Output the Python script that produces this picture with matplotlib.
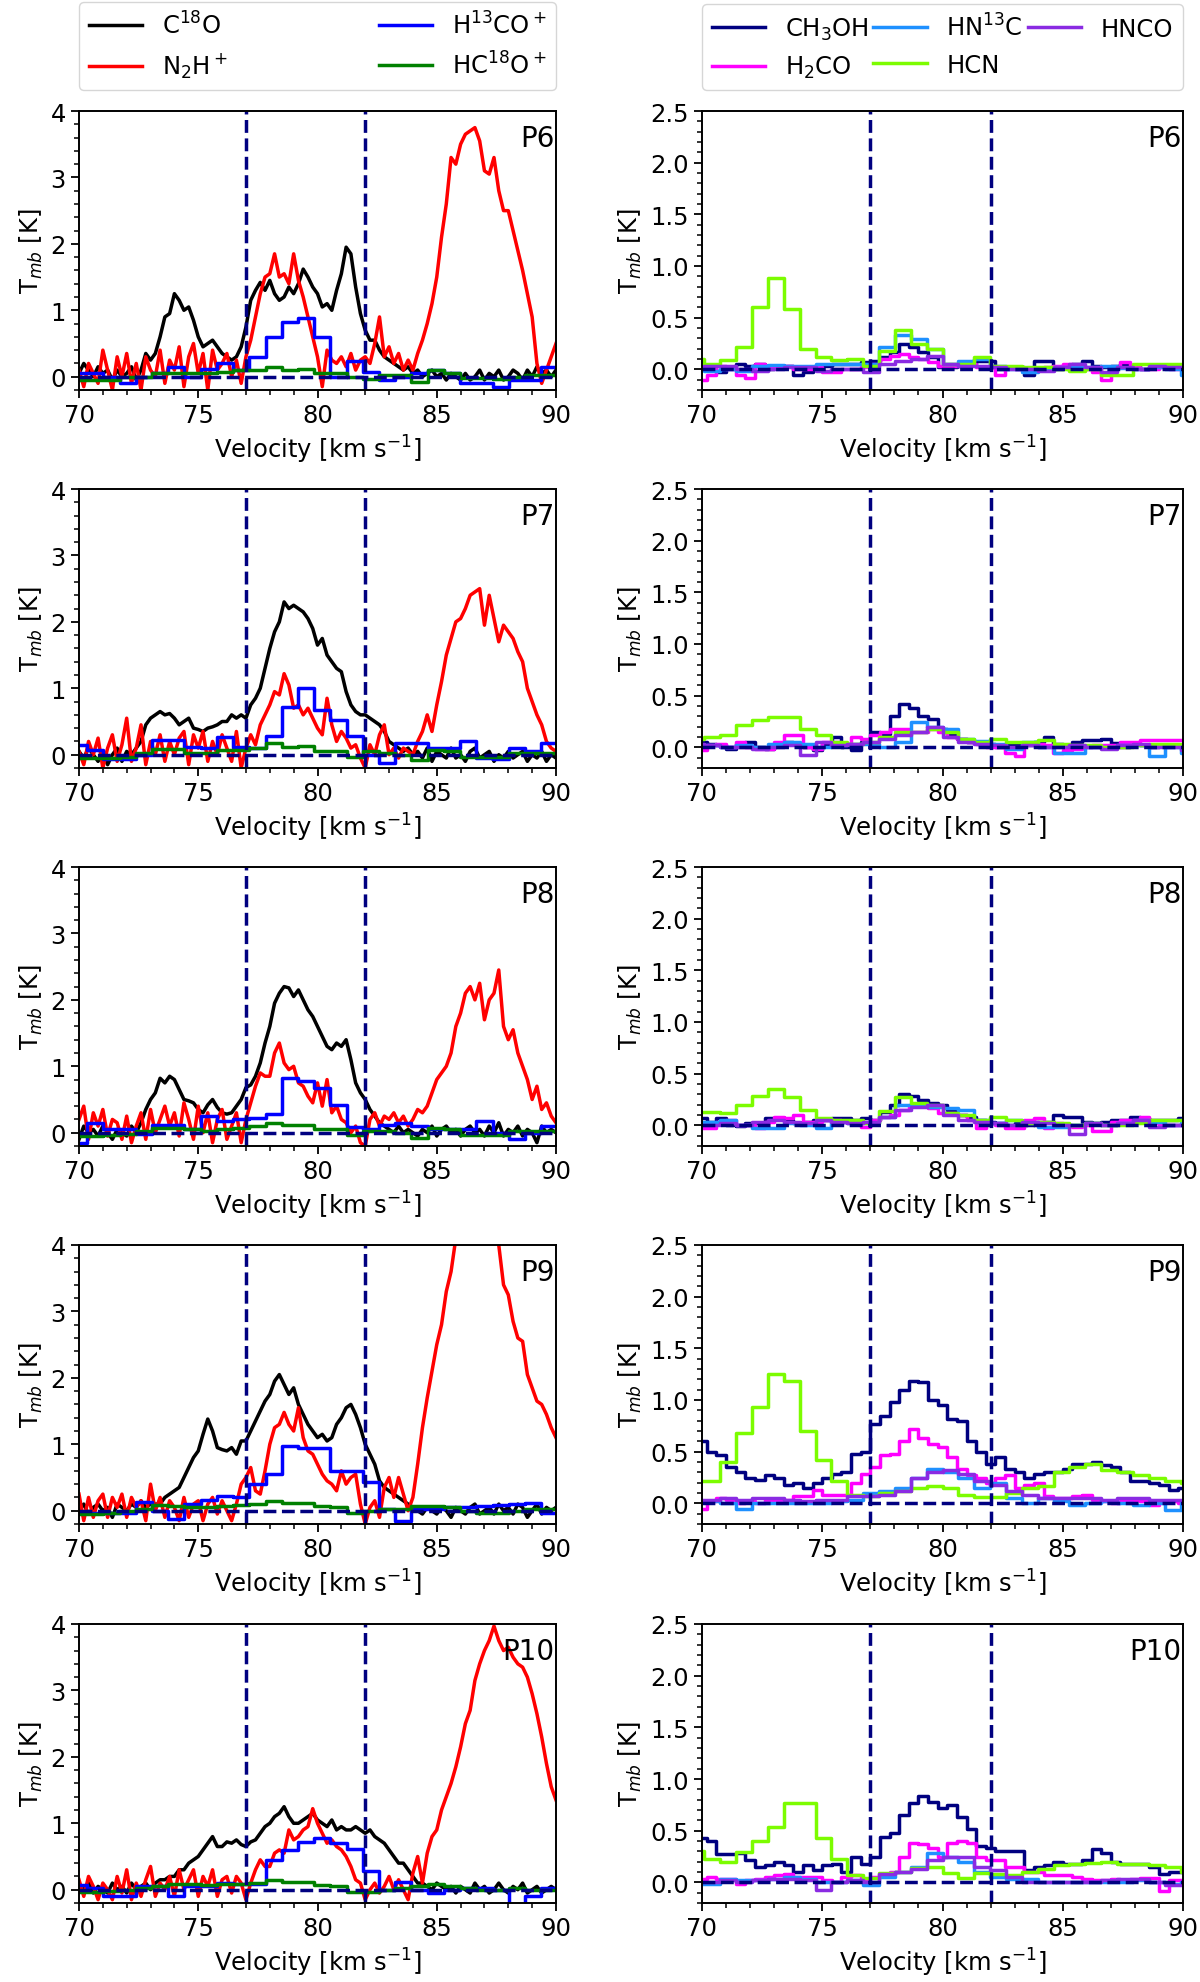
import numpy as np
import matplotlib
matplotlib.use("Agg")
import matplotlib.pyplot as plt
from matplotlib.ticker import AutoMinorLocator, MultipleLocator

plt.rcParams['font.family'] = ['DejaVu Sans']

# ---------------- velocity grids (channel centres, km/s) ----------------
v_hr = np.round(np.arange(70.0, 90.001, 0.2), 2)        # C18O, N2H+ (101 ch)
v_lb = np.round(70.0 + 0.68 * np.arange(31), 2)          # H13CO+, HC18O+
v_rb = np.round(69.77 + 0.66 * np.arange(32), 2)         # HN13C, HCN, HNCO
v_rf = np.round(np.arange(70.0, 90.001, 0.4), 2)         # CH3OH, H2CO

panels = ['P6', 'P7', 'P8', 'P9', 'P10']
vlines = [77, 82]

# ---------------- C18O ----------------
c18o_p6 = [0.05, 0.2, 0.1, 0.0, 0.15, 0.05, 0.1, -0.05, 0.1, 0.0,
           0.05, 0.15, -0.05, 0.1, 0.35, 0.25, 0.35, 0.6, 0.9, 0.95,
           1.25, 1.15, 1.0, 1.05, 0.85, 0.6, 0.45, 0.5, 0.55, 0.45,
           0.35, 0.3, 0.25, 0.3, 0.45, 0.75, 1.15, 1.3, 1.42, 1.3,
           1.45, 1.25, 1.15, 1.2, 1.35, 1.25, 1.4, 1.62, 1.5, 1.35,
           1.25, 1.05, 1.1, 1.0, 1.3, 1.55, 1.95, 1.85, 1.35, 0.95,
           0.7, 0.55, 0.55, 0.4, 0.3, 0.25, 0.2, 0.15, 0.1, 0.15,
           0.05, 0.1, 0.0, 0.05, 0.1, 0.0, 0.05, -0.05, 0.05, 0.0,
           -0.05, 0.05, -0.05, 0.0, 0.1, -0.05, 0.05, 0.0, 0.1, -0.05,
           0.0, 0.1, 0.05, -0.05, 0.1, 0.0, 0.15, 0.05, 0.1, 0.0, 0.1]
c18o_p7 = [0.05, -0.05, 0.1, 0.0, -0.1, 0.05, -0.15, 0.0, 0.1, -0.1,
           0.05, 0.0, 0.1, 0.2, 0.45, 0.55, 0.6, 0.65, 0.6, 0.62,
           0.55, 0.45, 0.5, 0.55, 0.4, 0.38, 0.35, 0.4, 0.42, 0.45,
           0.5, 0.5, 0.6, 0.55, 0.6, 0.55, 0.75, 0.85, 1.0, 1.3,
           1.6, 1.85, 2.0, 2.3, 2.2, 2.25, 2.2, 2.15, 2.05, 1.9,
           1.65, 1.75, 1.5, 1.4, 1.3, 1.25, 0.95, 0.75, 0.65, 0.6,
           0.6, 0.55, 0.5, 0.45, 0.35, 0.2, 0.15, 0.1, 0.05, 0.1,
           0.0, 0.05, -0.05, 0.1, -0.1, 0.05, 0.0, -0.05, 0.1, -0.05,
           0.0, -0.1, 0.05, 0.1, -0.05, 0.0, 0.05, -0.1, 0.0, -0.05,
           0.05, -0.05, 0.0, 0.05, -0.1, 0.0, -0.05, 0.05, -0.1, 0.0, -0.05]
c18o_p8 = [-0.1, 0.1, 0.0, 0.05, -0.05, 0.1, 0.0, -0.1, 0.05, 0.0,
           -0.05, 0.1, 0.0, 0.15, 0.35, 0.5, 0.6, 0.82, 0.75, 0.85,
           0.8, 0.65, 0.5, 0.48, 0.45, 0.35, 0.3, 0.42, 0.5, 0.38,
           0.3, 0.28, 0.3, 0.4, 0.5, 0.68, 0.72, 0.85, 1.05, 1.35,
           1.6, 1.95, 2.1, 2.2, 2.18, 2.05, 2.15, 2.0, 1.85, 1.75,
           1.6, 1.45, 1.3, 1.25, 1.35, 1.3, 1.4, 1.1, 0.75, 0.6,
           0.5, 0.35, 0.25, 0.15, 0.1, 0.05, 0.0, 0.1, 0.0, 0.05,
           0.0, -0.05, 0.05, 0.0, 0.1, -0.05, 0.05, 0.1, 0.0, 0.05,
           -0.05, 0.05, 0.1, 0.0, 0.05, -0.05, 0.1, 0.0, 0.15, -0.05,
           0.05, 0.0, 0.1, -0.05, 0.05, 0.0, -0.15, 0.1, 0.0, 0.05, 0.0]
c18o_p9 = [0.0, 0.1, -0.05, 0.05, 0.1, 0.0, 0.05, -0.1, 0.1, 0.05,
           0.0, 0.1, 0.05, 0.15, 0.05, 0.1, 0.1, 0.1, 0.2, 0.25,
           0.3, 0.35, 0.5, 0.65, 0.8, 0.9, 1.15, 1.38, 1.2, 0.95,
           0.92, 0.9, 0.95, 0.85, 1.05, 1.05, 1.2, 1.35, 1.5, 1.65,
           1.75, 1.95, 2.05, 1.9, 1.75, 1.85, 1.6, 1.45, 1.3, 1.2,
           1.1, 1.15, 1.05, 1.1, 1.3, 1.4, 1.55, 1.6, 1.45, 1.25,
           1.0, 0.85, 0.7, 0.45, 0.35, 0.3, 0.25, 0.2, 0.15, 0.1,
           0.05, 0.0, -0.05, 0.05, 0.0, -0.05, 0.05, 0.0, -0.1, 0.05,
           0.0, -0.05, 0.05, 0.1, -0.05, 0.0, 0.05, -0.05, 0.1, 0.0,
           0.05, -0.05, 0.1, 0.05, -0.1, 0.0, 0.1, -0.05, 0.05, 0.0, 0.05]
c18o_p10 = [0.05, 0.0, 0.1, -0.05, 0.05, 0.0, -0.05, 0.1, 0.0, 0.05,
            -0.05, 0.1, 0.0, 0.05, 0.1, 0.0, 0.1, 0.15, 0.15, 0.2,
            0.2, 0.3, 0.3, 0.4, 0.45, 0.5, 0.6, 0.7, 0.8, 0.65,
            0.65, 0.72, 0.7, 0.75, 0.68, 0.65, 0.72, 0.75, 0.85, 0.95,
            1.0, 1.1, 1.15, 1.25, 1.1, 1.0, 1.0, 1.05, 1.1, 1.15,
            1.05, 1.0, 0.95, 1.05, 0.9, 0.95, 0.9, 0.9, 0.95, 0.9,
            0.85, 0.9, 0.8, 0.75, 0.7, 0.6, 0.5, 0.4, 0.4, 0.3,
            0.2, 0.1, 0.1, 0.05, 0.0, 0.1, 0.05, 0.0, 0.05, -0.05,
            0.05, 0.0, -0.05, 0.1, 0.0, 0.05, -0.05, 0.0, 0.1, 0.0,
            -0.05, 0.05, 0.0, 0.1, -0.05, 0.0, 0.05, -0.05, 0.0, 0.05, 0.0]

# ---------------- N2H+ ----------------
n2hp_p6 = [0.1, -0.15, 0.2, 0.05, -0.1, 0.4, 0.1, -0.2, 0.3, 0.0,
           0.35, -0.1, 0.2, -0.2, 0.3, 0.1, 0.0, 0.4, -0.1, 0.25,
           0.1, 0.45, -0.15, 0.3, 0.5, 0.05, 0.35, -0.2, 0.4, 0.1,
           0.2, 0.35, 0.0, 0.25, -0.1, 0.3, 0.55, 0.9, 1.25, 1.5,
           1.55, 1.85, 1.5, 1.55, 1.4, 1.85, 1.45, 1.2, 0.9, 0.6,
           0.3, -0.15, 0.4, 0.25, 0.2, 0.3, 0.15, 0.35, 0.1, 0.25,
           0.3, 0.2, 0.5, 0.9, 0.3, 0.45, 0.2, 0.35, 0.1, 0.25,
           0.1, 0.35, 0.55, 0.8, 1.1, 1.5, 2.1, 2.6, 3.3, 3.2,
           3.5, 3.65, 3.7, 3.75, 3.55, 3.1, 3.05, 3.3, 2.8, 2.5,
           2.5, 2.2, 1.9, 1.6, 1.25, 0.9, 0.2, -0.1, 0.1, 0.3, 0.5]
n2hp_p7 = [0.05, -0.15, 0.2, 0.0, 0.25, -0.2, 0.1, 0.3, -0.1, 0.15,
           0.55, -0.1, 0.1, 0.45, -0.15, 0.2, 0.0, 0.3, -0.1, 0.2,
           0.0, 0.25, 0.35, -0.15, 0.3, 0.1, 0.35, -0.1, 0.2, 0.0,
           0.3, 0.1, -0.1, 0.35, -0.2, 0.1, 0.3, 0.15, 0.45, 0.6,
           0.75, 0.95, 0.9, 1.22, 1.05, 0.7, 0.75, 0.6, 0.7, 0.55,
           0.4, 0.3, 0.85, 0.45, 0.2, 0.35, 0.25, 0.1, 0.15, -0.05,
           -0.2, 0.15, 0.0, 0.3, 0.45, 0.0, 0.1, -0.05, 0.1, 0.05,
           0.0, 0.2, 0.35, 0.6, 0.35, 0.75, 1.1, 1.5, 1.75, 2.0,
           2.05, 2.2, 2.4, 2.45, 2.5, 1.95, 2.4, 2.05, 1.7, 1.95,
           1.85, 1.75, 1.55, 1.4, 1.0, 0.8, 0.6, 0.45, 0.2, 0.1, 0.05]
n2hp_p8 = [0.2, 0.4, -0.1, 0.3, 0.1, 0.35, -0.05, 0.2, 0.15, -0.1,
           0.25, -0.15, 0.1, 0.3, -0.1, 0.35, 0.0, 0.2, 0.4, 0.1,
           0.3, -0.05, 0.45, 0.2, -0.1, 0.4, 0.0, 0.3, -0.15, 0.2,
           0.35, -0.1, 0.1, 0.3, -0.15, 0.2, 0.45, 0.7, 0.9, 0.85,
           0.85, 1.2, 1.35, 1.05, 0.95, 1.0, 0.75, 0.7, 0.55, 0.45,
           0.75, 0.4, 0.8, 0.3, 0.4, 0.2, 0.15, 0.0, 0.1, -0.15,
           -0.2, 0.2, 0.3, 0.1, 0.25, 0.2, 0.3, 0.15, 0.25, 0.1,
           0.2, 0.35, 0.3, 0.4, 0.6, 0.8, 0.9, 1.0, 1.2, 1.6,
           1.8, 2.1, 2.2, 2.0, 2.25, 1.7, 2.0, 2.1, 2.45, 1.6,
           1.4, 1.55, 1.2, 1.0, 0.8, 0.5, 0.7, 0.35, 0.45, 0.25, 0.15]
n2hp_p9 = [0.25, -0.15, 0.2, -0.1, 0.15, 0.25, -0.1, 0.2, 0.05, 0.25,
           -0.1, 0.2, 0.05, 0.15, -0.15, 0.4, 0.0, 0.2, -0.1, 0.15,
           0.05, -0.15, 0.2, -0.1, 0.1, 0.15, -0.15, 0.1, 0.2, -0.05,
           0.15, 0.0, -0.15, 0.1, 0.4, 0.5, 0.65, 0.3, 0.25, 0.6,
           1.0, 1.25, 1.3, 1.48, 1.3, 1.2, 1.55, 1.1, 0.9, 0.85,
           0.7, 0.55, 0.45, 0.4, 0.3, 0.6, 0.4, 0.5, 0.55, 0.1,
           -0.2, 0.05, 0.15, -0.1, 0.35, 0.5, 0.2, 0.5, 0.25, 0.0,
           0.2, 0.7, 1.25, 1.7, 2.1, 2.5, 2.8, 3.3, 3.6, 4.1,
           4.4, 4.7, 5.0, 5.2, 5.2, 5.0, 4.7, 4.4, 4.0, 3.4,
           3.25, 2.85, 2.6, 2.55, 2.05, 1.85, 1.65, 1.6, 1.45, 1.25, 1.1]
n2hp_p10 = [0.15, -0.1, 0.2, 0.05, -0.15, 0.1, 0.0, -0.15, 0.2, -0.05,
            0.3, -0.15, 0.1, -0.1, 0.15, 0.35, -0.1, 0.1, 0.0, 0.2,
            -0.1, 0.3, 0.0, 0.15, 0.3, -0.1, 0.2, 0.05, 0.3, -0.1,
            0.15, 0.2, -0.05, 0.2, 0.1, -0.15, 0.1, 0.3, 0.45, 0.35,
            0.35, 0.55, 0.6, 0.55, 0.9, 0.75, 0.8, 0.9, 0.95, 1.22,
            1.0, 0.85, 0.7, 0.75, 0.65, 0.6, 0.5, 0.35, 0.15, 0.1,
            -0.15, 0.0, 0.1, -0.05, 0.05, 0.2, 0.0, 0.15, 0.0, -0.15,
            0.25, 0.5, 0.1, 0.55, 0.8, 0.9, 1.2, 1.4, 1.6, 1.85,
            2.15, 2.5, 2.7, 3.15, 3.4, 3.6, 3.75, 3.97, 3.75, 3.6,
            3.65, 3.5, 3.4, 3.35, 3.2, 2.95, 2.65, 2.3, 1.9, 1.55, 1.35]

# ---------------- H13CO+ ----------------
h13cop_p6 = [0.05, 0.05, 0.0, -0.1, 0.0, 0.05, 0.15, 0.0, 0.12, 0.2, 0.1, 0.3, 0.6, 0.83, 0.88, 0.6,
             0.0, 0.23, 0.07, -0.05, 0.0, 0.05, 0.1, 0.05, -0.1, -0.1, -0.15, -0.05, -0.05, 0.15, 0.15]
h13cop_p7 = [0.15, 0.07, -0.07, -0.07, 0.0, 0.22, 0.22, 0.12, 0.1, 0.27, 0.12, 0.1, 0.28, 0.72, 1.0, 0.68,
             0.53, 0.28, 0.0, -0.13, 0.17, 0.17, 0.1, 0.1, 0.2, -0.05, -0.07, 0.1, 0.05, 0.18, 0.18]
h13cop_p8 = [-0.15, 0.15, 0.05, 0.05, -0.02, 0.12, 0.12, 0.05, 0.25, 0.18, 0.2, 0.22, 0.28, 0.83, 0.78, 0.67,
             0.42, 0.08, 0.05, 0.12, 0.15, 0.1, 0.05, 0.05, 0.05, 0.18, 0.0, -0.1, 0.0, 0.1, 0.1]
h13cop_p9 = [-0.03, -0.03, -0.03, -0.03, 0.13, 0.0, -0.13, 0.1, 0.16, 0.22, 0.2, 0.4, 0.55, 0.97, 0.95, 0.95,
             0.6, 0.6, 0.43, 0.02, -0.15, 0.02, 0.03, 0.05, 0.05, 0.07, 0.08, 0.1, 0.12, -0.03, 0.1]
h13cop_p10 = [0.07, 0.03, -0.1, -0.1, 0.05, 0.05, -0.1, 0.05, 0.05, 0.1, 0.08, 0.08, 0.45, 0.6, 0.72, 0.78,
              0.7, 0.62, 0.28, 0.0, 0.12, 0.0, -0.05, 0.0, 0.02, 0.03, 0.0, -0.3, -0.1, 0.02, 0.02]

# ---------------- HC18O+ ----------------
hc18op_p6 = [-0.05, -0.05, -0.05, 0.0, 0.0, 0.05, 0.05, 0.05, 0.05, 0.07, 0.1, 0.1, 0.15, 0.1, 0.12, 0.05,
             0.05, 0.0, -0.03, 0.02, 0.03, -0.08, 0.1, 0.05, -0.02, -0.02, -0.03, 0.0, 0.02, 0.02, 0.02]
hc18op_p7 = [-0.05, -0.05, -0.05, -0.03, 0.02, 0.08, 0.08, 0.03, 0.03, 0.07, 0.07, 0.1, 0.17, 0.12, 0.13, 0.05,
             0.05, -0.03, 0.05, 0.03, 0.0, -0.08, 0.07, 0.05, -0.03, -0.03, -0.03, 0.03, 0.03, 0.02, 0.02]
hc18op_p8 = [-0.05, -0.05, -0.03, -0.02, 0.02, 0.07, 0.07, 0.05, 0.03, 0.05, 0.07, 0.1, 0.15, 0.12, 0.12, 0.05,
             0.05, -0.03, 0.03, 0.03, 0.0, -0.08, 0.07, 0.05, -0.03, -0.03, -0.03, 0.02, 0.03, 0.02, 0.02]
hc18op_p9 = [-0.05, -0.05, -0.03, 0.0, 0.03, 0.08, 0.07, 0.05, 0.05, 0.07, 0.08, 0.1, 0.15, 0.12, 0.12, 0.07,
             0.05, -0.03, 0.0, 0.03, 0.03, 0.07, 0.07, 0.05, 0.0, -0.03, -0.03, 0.0, 0.02, 0.02, 0.0]
hc18op_p10 = [-0.03, -0.03, -0.02, 0.0, 0.03, 0.05, 0.08, 0.08, 0.07, 0.08, 0.08, 0.1, 0.15, 0.12, 0.12, 0.07,
              0.05, -0.03, -0.03, 0.0, 0.03, 0.05, 0.08, 0.05, 0.03, 0.0, 0.0, 0.02, 0.0, 0.0, 0.0]

# ---------------- CH3OH (0.4 km/s grid) ----------------
ch3oh_p6 = [0.02, 0.0, -0.03, 0.02, 0.05, 0.03, 0.05, 0.0, 0.02, 0.03, -0.05, -0.03, 0.0, 0.03, 0.05, 0.05, 0.05,
            0.07, 0.08, 0.12, 0.17, 0.25, 0.22, 0.17, 0.12, 0.02, 0.02, 0.03, 0.05, 0.08, 0.08, 0.0, 0.02, 0.02,
            -0.05, 0.08, 0.08, 0.0, 0.02, 0.05, 0.08, 0.03, 0.02, 0.03, 0.05, 0.03, 0.0, 0.02, 0.03, 0.02, 0.02]
ch3oh_p7 = [0.05, 0.03, 0.02, -0.02, 0.03, 0.05, 0.0, -0.02, 0.02, 0.05, 0.03, 0.0, -0.03, 0.03, 0.1, 0.0, -0.03,
            0.05, 0.15, 0.13, 0.3, 0.42, 0.38, 0.3, 0.27, 0.18, 0.12, 0.08, 0.05, 0.05, 0.03, 0.0, 0.03, 0.03,
            0.02, 0.05, 0.1, 0.03, 0.0, 0.05, 0.07, 0.07, 0.08, 0.04, 0.0, 0.03, 0.02, 0.0, 0.02, 0.02, 0.02]
ch3oh_p8 = [0.07, 0.03, 0.07, 0.0, -0.01, 0.02, 0.02, 0.07, 0.07, 0.05, 0.02, 0.03, 0.05, 0.05, 0.07, 0.07, 0.05,
            0.07, 0.05, 0.13, 0.2, 0.3, 0.28, 0.25, 0.22, 0.2, 0.15, 0.1, 0.08, 0.05, 0.03, 0.02, 0.0, 0.02,
            0.0, 0.03, 0.03, 0.1, 0.08, 0.08, 0.03, 0.02, 0.03, 0.05, 0.05, 0.08, 0.07, 0.05, 0.05, 0.05, 0.07]
ch3oh_p9 = [0.6, 0.5, 0.47, 0.35, 0.3, 0.25, 0.23, 0.27, 0.25, 0.18, 0.2, 0.15, 0.2, 0.25, 0.28, 0.3, 0.48,
            0.5, 0.77, 0.85, 0.98, 1.1, 1.18, 1.17, 1.0, 0.95, 0.82, 0.8, 0.6, 0.5, 0.38, 0.45, 0.33, 0.3,
            0.25, 0.28, 0.3, 0.3, 0.33, 0.38, 0.38, 0.4, 0.37, 0.35, 0.3, 0.22, 0.22, 0.2, 0.18, 0.13, 0.15]
ch3oh_p10 = [0.43, 0.4, 0.27, 0.27, 0.28, 0.22, 0.15, 0.17, 0.2, 0.17, 0.1, 0.17, 0.12, 0.17, 0.18, 0.1, 0.25,
             0.18, 0.25, 0.44, 0.48, 0.65, 0.77, 0.84, 0.78, 0.72, 0.75, 0.63, 0.52, 0.35, 0.33, 0.3, 0.3, 0.3,
             0.12, 0.15, 0.17, 0.2, 0.18, 0.18, 0.22, 0.32, 0.28, 0.2, 0.18, 0.18, 0.18, 0.15, 0.08, 0.1, 0.1]

# ---------------- H2CO (0.4 km/s grid) ----------------
h2co_p6 = [-0.1, -0.05, 0.03, 0.0, -0.05, -0.08, 0.05, 0.03, 0.02, 0.03, 0.0, 0.0, 0.02, -0.03, -0.03, 0.0, 0.0,
           0.02, 0.05, 0.1, 0.13, 0.15, 0.12, 0.1, 0.07, 0.03, 0.03, 0.03, 0.05, 0.02, 0.02, -0.05, 0.02, 0.0,
           -0.02, 0.0, 0.02, 0.03, 0.05, 0.03, 0.0, -0.03, -0.1, 0.02, 0.07, 0.02, 0.0, 0.0, 0.02, 0.0, 0.0]
h2co_p7 = [-0.03, 0.02, 0.03, 0.0, 0.05, 0.0, -0.02, -0.02, 0.05, 0.12, 0.12, 0.0, -0.02, 0.05, 0.05, 0.03, 0.1,
           0.08, 0.12, 0.15, 0.18, 0.18, 0.15, 0.15, 0.18, 0.15, 0.1, 0.08, 0.05, 0.03, 0.0, 0.0, -0.05, -0.08,
           0.03, 0.03, 0.02, -0.05, -0.03, -0.02, 0.0, 0.02, 0.02, 0.02, 0.05, 0.05, 0.07, 0.07, 0.07, 0.07, 0.07]
h2co_p8 = [-0.03, -0.03, 0.03, 0.05, 0.0, 0.0, -0.03, 0.03, 0.08, 0.07, 0.1, 0.03, 0.03, 0.05, 0.05, 0.03, 0.03,
           -0.02, 0.05, 0.08, 0.1, 0.15, 0.2, 0.2, 0.17, 0.12, 0.12, 0.1, 0.05, -0.03, 0.02, 0.0, -0.03, -0.03,
           0.05, 0.07, -0.03, 0.02, 0.0, -0.02, 0.0, -0.05, -0.05, 0.03, 0.05, 0.05, 0.08, 0.02, 0.0, 0.0, 0.0]
h2co_p9 = [-0.05, 0.02, 0.05, 0.03, 0.0, 0.02, 0.0, 0.03, 0.02, 0.03, 0.07, 0.07, 0.13, 0.08, 0.08, 0.08, 0.2,
           0.28, 0.35, 0.47, 0.48, 0.6, 0.72, 0.63, 0.57, 0.55, 0.45, 0.33, 0.27, 0.25, 0.2, 0.25, 0.27, 0.15,
           0.18, 0.2, 0.07, 0.05, 0.05, 0.07, 0.08, 0.03, 0.02, 0.0, 0.02, 0.03, 0.02, -0.02, 0.02, 0.02, 0.0]
h2co_p10 = [0.03, 0.05, 0.03, 0.03, -0.02, 0.02, 0.03, 0.05, 0.07, 0.08, 0.05, 0.05, 0.05, 0.02, 0.0, 0.05, 0.07,
            0.02, 0.05, 0.08, 0.1, 0.25, 0.38, 0.37, 0.33, 0.25, 0.38, 0.4, 0.38, 0.25, 0.22, 0.22, 0.15, 0.15,
            0.1, 0.1, 0.07, 0.07, 0.07, 0.05, 0.03, 0.02, 0.02, 0.03, 0.02, 0.03, 0.04, 0.04, -0.08, 0.02, 0.02]

# ---------------- HN13C (0.66 km/s grid) ----------------
hn13c_p6 = [0.0, -0.02, 0.0, -0.02, 0.03, 0.04, 0.03, 0.03, 0.05, 0.05, 0.05, 0.05, 0.22, 0.33, 0.29, 0.2,
            0.05, 0.08, 0.1, 0.03, 0.0, -0.03, 0.0, 0.02, 0.03, 0.02, 0.03, 0.01, 0.0, 0.02, 0.0, -0.05]
hn13c_p7 = [0.02, 0.02, 0.0, 0.02, 0.0, 0.03, 0.05, 0.03, 0.0, 0.02, 0.03, 0.03, 0.0, 0.05, 0.25, 0.2,
            0.18, 0.08, 0.06, 0.03, -0.02, 0.05, 0.0, -0.05, -0.05, 0.0, 0.0, 0.02, 0.02, -0.08, 0.0, -0.05]
hn13c_p8 = [0.03, 0.03, 0.05, 0.0, -0.03, -0.03, 0.02, 0.0, -0.03, 0.03, 0.02, 0.02, 0.08, 0.2, 0.2, 0.18,
            0.17, 0.15, 0.05, 0.02, 0.05, 0.02, -0.02, -0.02, 0.0, 0.02, 0.0, 0.02, 0.05, 0.03, 0.0, 0.05]
hn13c_p9 = [0.02, 0.02, 0.0, -0.05, 0.0, 0.0, 0.0, 0.0, 0.0, 0.02, 0.03, 0.1, 0.12, 0.15, 0.25, 0.33,
            0.3, 0.25, 0.15, 0.2, 0.05, 0.0, 0.05, 0.02, -0.02, 0.0, 0.02, 0.0, -0.02, 0.0, -0.06, 0.0]
hn13c_p10 = [-0.02, -0.02, 0.03, 0.02, 0.02, 0.03, 0.05, 0.03, 0.0, 0.0, 0.02, -0.03, 0.05, 0.1, 0.15, 0.28,
             0.25, 0.2, 0.1, 0.05, 0.03, 0.03, 0.0, 0.0, 0.0, 0.0, 0.0, 0.0, 0.02, 0.0, -0.02, 0.0]

# ---------------- HCN (0.66 km/s grid) ----------------
hcn_p6 = [0.1, 0.05, 0.09, 0.22, 0.6, 0.88, 0.58, 0.2, 0.12, 0.09, 0.1, 0.03, 0.18, 0.38, 0.25, 0.2,
          0.05, 0.05, 0.12, 0.03, 0.03, 0.02, 0.02, 0.0, -0.02, 0.0, -0.05, -0.05, 0.05, 0.05, 0.05, 0.05]
hcn_p7 = [0.08, 0.1, 0.12, 0.22, 0.26, 0.29, 0.29, 0.18, 0.12, 0.05, 0.03, 0.05, 0.1, 0.15, 0.15, 0.18,
          0.15, 0.08, 0.05, 0.08, 0.05, 0.05, 0.07, 0.03, 0.02, 0.02, 0.0, 0.0, 0.02, 0.03, 0.03, 0.03]
hcn_p8 = [0.13, 0.13, 0.12, 0.2, 0.28, 0.35, 0.27, 0.15, 0.07, 0.05, 0.05, 0.02, 0.14, 0.27, 0.22, 0.2,
          0.12, 0.1, 0.05, 0.08, 0.05, 0.02, 0.03, 0.02, 0.0, 0.02, 0.0, 0.0, 0.02, 0.05, 0.05, 0.05]
hcn_p9 = [0.22, 0.22, 0.4, 0.68, 0.93, 1.25, 1.18, 0.7, 0.42, 0.22, 0.08, 0.07, 0.1, 0.12, 0.15, 0.17,
          0.15, 0.08, 0.06, 0.06, 0.1, 0.15, 0.17, 0.3, 0.35, 0.38, 0.32, 0.3, 0.27, 0.25, 0.22, 0.2]
hcn_p10 = [0.3, 0.23, 0.2, 0.29, 0.4, 0.54, 0.77, 0.77, 0.43, 0.23, 0.07, 0.04, 0.09, 0.1, 0.14, 0.15,
           0.09, 0.04, 0.09, 0.08, 0.07, 0.1, 0.13, 0.17, 0.18, 0.19, 0.2, 0.18, 0.18, 0.17, 0.15, 0.1]

# ---------------- HNCO (0.66 km/s grid) ----------------
hnco_p6 = [0.02, 0.03, 0.03, 0.0, -0.02, 0.0, 0.02, 0.02, -0.02, 0.0, 0.0, -0.03, 0.05, 0.08, 0.1, 0.13,
           0.05, 0.03, 0.03, 0.02, 0.0, 0.0, -0.02, 0.02, 0.05, 0.02, -0.03, 0.02, 0.0, 0.03, 0.02, 0.02]
hnco_p7 = [0.03, 0.02, 0.0, 0.0, -0.02, 0.0, 0.02, -0.07, 0.05, 0.02, 0.03, 0.05, 0.08, 0.12, 0.15, 0.2,
           0.1, 0.05, 0.03, 0.02, 0.0, 0.02, 0.0, 0.0, 0.02, 0.0, -0.02, 0.02, 0.03, 0.0, 0.0, -0.03]
hnco_p8 = [0.0, 0.0, 0.02, 0.0, 0.03, 0.05, 0.03, 0.02, 0.05, 0.03, 0.02, 0.03, 0.08, 0.15, 0.18, 0.2,
           0.1, 0.05, 0.03, 0.02, 0.0, 0.03, 0.02, 0.0, -0.08, 0.02, 0.0, 0.02, 0.05, -0.02, 0.0, 0.0]
hnco_p9 = [0.03, 0.03, 0.05, 0.03, 0.05, 0.05, 0.03, 0.02, 0.03, 0.03, 0.07, 0.07, 0.08, 0.12, 0.25, 0.3,
           0.32, 0.28, 0.22, 0.18, 0.12, 0.08, 0.05, 0.05, 0.05, 0.05, 0.03, 0.05, 0.05, 0.03, 0.03, 0.03]
hnco_p10 = [0.0, 0.0, 0.02, 0.0, 0.02, 0.03, 0.03, 0.02, -0.07, 0.0, 0.02, 0.0, 0.08, 0.1, 0.13, 0.22,
            0.25, 0.25, 0.15, 0.12, 0.05, 0.0, 0.0, 0.0, 0.0, 0.0, 0.02, 0.03, 0.03, 0.0, -0.03, -0.03]

# ---------------- assemble ----------------
left_species = [
    ('C$^{18}$O', 'black', v_hr, 'default', [c18o_p6, c18o_p7, c18o_p8, c18o_p9, c18o_p10]),
    ('N$_2$H$^+$', 'red', v_hr, 'default', [n2hp_p6, n2hp_p7, n2hp_p8, n2hp_p9, n2hp_p10]),
    ('H$^{13}$CO$^+$', 'blue', v_lb, 'steps-mid', [h13cop_p6, h13cop_p7, h13cop_p8, h13cop_p9, h13cop_p10]),
    ('HC$^{18}$O$^+$', 'green', v_lb, 'steps-mid', [hc18op_p6, hc18op_p7, hc18op_p8, hc18op_p9, hc18op_p10]),
]
right_species = [
    ('CH$_3$OH', 'navy', v_rf, 'steps-mid', [ch3oh_p6, ch3oh_p7, ch3oh_p8, ch3oh_p9, ch3oh_p10]),
    ('H$_2$CO', 'magenta', v_rf, 'steps-mid', [h2co_p6, h2co_p7, h2co_p8, h2co_p9, h2co_p10]),
    ('HN$^{13}$C', 'dodgerblue', v_rb, 'steps-mid', [hn13c_p6, hn13c_p7, hn13c_p8, hn13c_p9, hn13c_p10]),
    ('HCN', 'lawngreen', v_rb, 'steps-mid', [hcn_p6, hcn_p7, hcn_p8, hcn_p9, hcn_p10]),
    ('HNCO', 'blueviolet', v_rb, 'steps-mid', [hnco_p6, hnco_p7, hnco_p8, hnco_p9, hnco_p10]),
]

W, H = 1200, 1983
fig = plt.figure(figsize=(W / 100, H / 100), dpi=100)

FS = 17.5
LW = 2.5
ax_h = 279 / H
bottoms_px = [391, 769, 1147, 1525, 1904]
left_x, left_w = 79 / W, 477 / W
right_x, right_w = 702 / W, 481 / W


def style_axes(ax, ymax, ymajor):
    ax.set_xlim(70, 90)
    ax.set_ylim(-0.2, ymax)
    ax.xaxis.set_major_locator(MultipleLocator(5))
    ax.yaxis.set_major_locator(MultipleLocator(ymajor))
    ax.xaxis.set_minor_locator(AutoMinorLocator())
    ax.yaxis.set_minor_locator(AutoMinorLocator())
    ax.tick_params(axis='both', which='major', labelsize=FS, length=6, width=1.3)
    ax.tick_params(axis='both', which='minor', length=3.5, width=1.1)
    for s in ax.spines.values():
        s.set_linewidth(1.4)
    ax.set_xlabel('Velocity [km s$^{-1}$]', fontsize=FS)
    ax.set_ylabel('T$_{mb}$ [K]', fontsize=FS)


for i, p in enumerate(panels):
    b = 1 - bottoms_px[i] / H
    axl = fig.add_axes([left_x, b, left_w, ax_h])
    axr = fig.add_axes([right_x, b, right_w, ax_h])

    for name, col, vel, ds, data in left_species:
        axl.plot(vel, data[i], drawstyle=ds, color=col, lw=LW, label=name)
    for name, col, vel, ds, data in right_species:
        axr.plot(vel, data[i], drawstyle=ds, color=col, lw=LW, label=name)

    for ax in (axl, axr):
        for xv in vlines:
            ax.axvline(xv, color='navy', ls='--', lw=LW)
        ax.axhline(0, color='navy', ls='--', lw=LW)
        ax.text(0.997, 0.955, p, transform=ax.transAxes, ha='right', va='top', fontsize=20)

    style_axes(axl, 4, 1)
    style_axes(axr, 2.5, 0.5)

    if i == 0:
        axl.legend(loc='lower left', bbox_to_anchor=(0, 1.075, 1, 0.2), mode='expand', ncol=2,
                   borderaxespad=0, fontsize=FS, handlelength=2.2)
        axr.legend(loc='lower left', bbox_to_anchor=(0, 1.075, 1, 0.2), mode='expand', ncol=3,
                   borderaxespad=0, fontsize=FS, handlelength=2.2, columnspacing=0.2)

fig.savefig('out.png', dpi=100)
